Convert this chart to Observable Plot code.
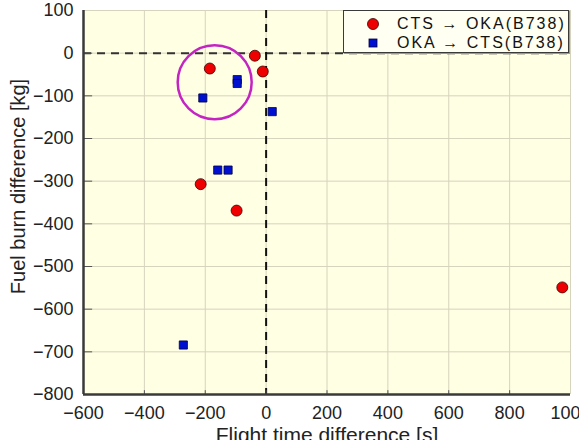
<!DOCTYPE html>
<html>
<head>
<meta charset="utf-8">
<script src="https://cdn.jsdelivr.net/npm/d3@7"></script>
<script src="https://cdn.jsdelivr.net/npm/@observablehq/plot@0.6"></script>
<style>
  html, body { margin: 0; padding: 0; background: #fff; }
  #wrap { position: relative; width: 579px; height: 440px; overflow: hidden; font-family: "Liberation Sans", Arial, sans-serif; }
  #legend {
    position: absolute; left: 343px; top: 10px; width: 224px; height: 41px;
    border: 1.5px solid #3a3a3a; background: #fffff2;
    box-shadow: 1px 1px 0 #999;
    font-size: 16px; letter-spacing: 2px; color: #111;
  }
  #legend .row { position: absolute; left: 0; height: 20px; line-height: 20px; white-space: nowrap; }
  #legend svg { position: absolute; left: 22px; top: 3px; }
  #legend span { position: absolute; left: 53px; }
</style>
</head>
<body>
<div id="wrap"></div>
<script>
// Series 1: CTS → OKA (B738) — flight time difference [s], fuel burn difference [kg]
const ctsOkaTime = [-185, -37, -11, -215, -97, 973];
const ctsOkaFuel = [-36, -6, -43, -307, -369, -549];

// Series 2: OKA → CTS (B738)
const okaCtsTime = [-208, -95, -95, 20, -159, -125, -272];
const okaCtsFuel = [-105, -62, -71, -137, -274, -274, -684];

const seriesNames = ["CTS → OKA(B738)", "OKA → CTS(B738)"];

// Highlighted cluster (ring around the near-zero flights)
const highlightTime = [-169];
const highlightFuel = [-68];

const xTicks = [-600, -400, -200, 0, 200, 400, 600, 800, 1000];
const yTicks = [100, 0, -100, -200, -300, -400, -500, -600, -700, -800];

const ctsOka = ctsOkaTime.map((t, i) => ({time: t, fuel: ctsOkaFuel[i]}));
const okaCts = okaCtsTime.map((t, i) => ({time: t, fuel: okaCtsFuel[i]}));
const highlight = highlightTime.map((t, i) => ({time: t, fuel: highlightFuel[i]}));

const font = "Liberation Sans, Arial, sans-serif";
const fmt = d => d < 0 ? "\u2212" + Math.abs(d) : String(d);

const chart = Plot.plot({
  width: 579,
  height: 440,
  marginLeft: 83,
  marginRight: 9,
  marginTop: 10,
  marginBottom: 46,
  style: {fontFamily: font, fontSize: "16px", color: "#111", background: "#fff", overflow: "hidden"},
  x: {domain: [-600, 1000], ticks: xTicks},
  y: {domain: [-800, 100], ticks: yTicks},
  marks: [
    Plot.frame({fill: "#ffffe4", stroke: null}),
    Plot.gridX(xTicks, {stroke: "#d6d4bc", strokeOpacity: 1, strokeWidth: 1}),
    Plot.gridY(yTicks, {stroke: "#d6d4bc", strokeOpacity: 1, strokeWidth: 1}),
    Plot.ruleY([0], {stroke: "#333", strokeWidth: 2, strokeDasharray: "8,6"}),
    Plot.ruleX([0], {stroke: "#111", strokeWidth: 2, strokeDasharray: "8,6"}),
    Plot.axisX(xTicks, {tickSize: 0, tickPadding: 12, label: null, fontSize: 18, tickFormat: fmt, fill: "#222"}),
    Plot.axisY(yTicks, {tickSize: 0, tickPadding: 10, label: null, fontSize: 18, tickFormat: fmt, fill: "#222"}),
    // short inward tick marks on the two axes
    Plot.ruleX(xTicks.slice(1, -1), {y1: -800, y2: -791, stroke: "#555", strokeWidth: 1}),
    Plot.ruleY(yTicks.slice(1, -1), {x1: -600, x2: -570, stroke: "#555", strokeWidth: 1}),
    Plot.ruleX([-600], {stroke: "#3a3a3a", strokeWidth: 2.5}),
    Plot.ruleY([-800], {stroke: "#3a3a3a", strokeWidth: 2.5}),
    Plot.dot(highlight, {x: "time", y: "fuel", r: 37, stroke: "#c425c2", strokeWidth: 2.5, fill: "none"}),
    Plot.dot(ctsOka, {x: "time", y: "fuel", r: 5.5, fill: "#ee0000", stroke: "#3a0000", strokeWidth: 0.8}),
    Plot.dot(okaCts, {x: "time", y: "fuel", r: 4.6, symbol: "square", fill: "#0010d0", stroke: "#000040", strokeWidth: 0.8}),
    Plot.text(["Fuel burn difference [kg]"], {frameAnchor: "left", textAnchor: "middle", rotate: -90, dx: -65, dy: -16, fontSize: 20, letterSpacing: 1.2, fill: "#222"}),
    Plot.text(["Flight time difference [s]"], {frameAnchor: "bottom", lineAnchor: "top", dy: 33, fontSize: 21, letterSpacing: 3.8, fill: "#222"})
  ]
});

const wrap = document.getElementById("wrap");
wrap.appendChild(chart);

// Legend box inside the upper-right corner of the frame
const legend = document.createElement("div");
legend.id = "legend";
legend.innerHTML = `
  <div class="row" style="top:3px"><svg width="14" height="14"><circle cx="7" cy="7" r="5.5" fill="#ee0000" stroke="#3a0000" stroke-width="0.8"/></svg><span>${seriesNames[0]}</span></div>
  <div class="row" style="top:22px"><svg width="14" height="14"><rect x="3" y="3" width="8" height="8" fill="#0010d0" stroke="#000040" stroke-width="0.8"/></svg><span>${seriesNames[1]}</span></div>`;
wrap.appendChild(legend);
</script>
</body>
</html>
